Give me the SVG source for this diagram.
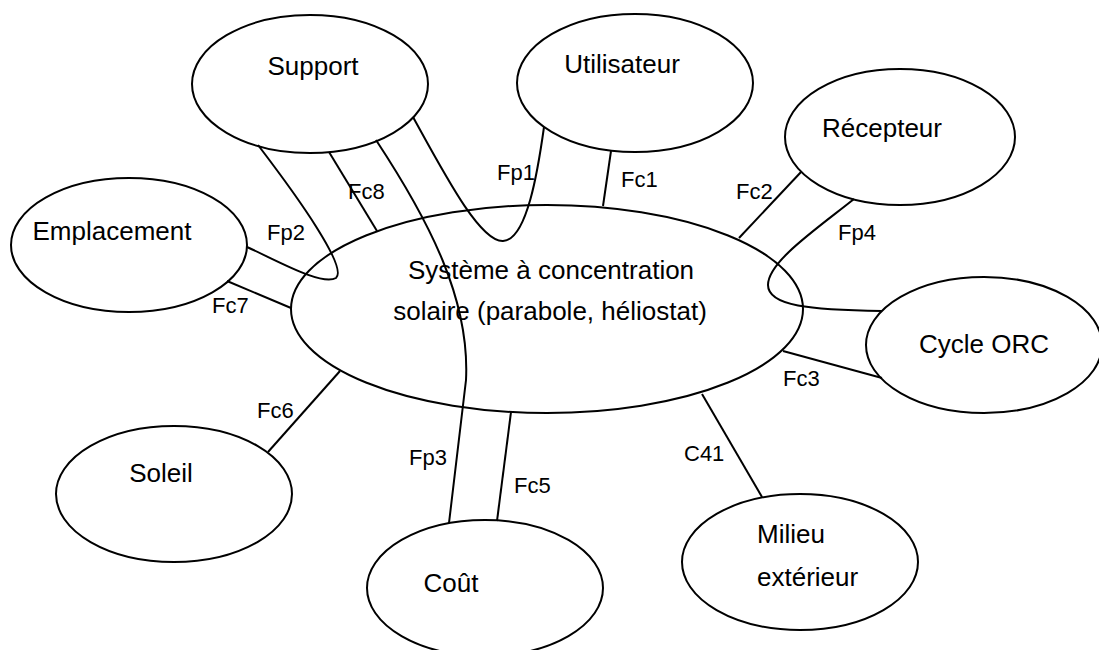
<svg xmlns="http://www.w3.org/2000/svg" width="1099" height="650" viewBox="0 0 1099 650">
<style>
.n{fill:#fff;stroke:#000;stroke-width:2}
.c{fill:none;stroke:#000;stroke-width:2}
text{font-family:"Liberation Sans",Arial,sans-serif;fill:#000}
.t{font-size:26px}
.l{font-size:22px}
</style>
<rect width="1099" height="650" fill="#fff"/>
<g id="n-main"><ellipse class="n" cx="547" cy="309" rx="256" ry="104"/></g>
<g id="n-support"><ellipse class="n" cx="310" cy="84" rx="118" ry="69"/><text class="t" x="313" y="75" text-anchor="middle">Support</text></g>
<g id="n-utilisateur"><ellipse class="n" cx="635" cy="83" rx="118" ry="69"/><text class="t" x="622" y="73" text-anchor="middle">Utilisateur</text></g>
<g id="n-recepteur"><ellipse class="n" cx="900" cy="137" rx="115" ry="68"/><text class="t" x="882" y="137" text-anchor="middle">Récepteur</text></g>
<g id="n-cycle"><ellipse class="n" cx="984" cy="345" rx="118" ry="68"/><text class="t" x="984" y="353" text-anchor="middle">Cycle ORC</text></g>
<g id="n-emplacement"><ellipse class="n" cx="129" cy="245" rx="118" ry="67"/><text class="t" x="112" y="240" text-anchor="middle">Emplacement</text></g>
<g id="n-soleil"><ellipse class="n" cx="174" cy="494" rx="118" ry="68"/><text class="t" x="161" y="482" text-anchor="middle">Soleil</text></g>
<g id="n-cout"><ellipse class="n" cx="485" cy="588" rx="118" ry="68"/><text class="t" x="451" y="592" text-anchor="middle">Coût</text></g>
<g id="n-milieu"><ellipse class="n" cx="800" cy="562" rx="118" ry="68"/><text class="t" x="757" y="543">Milieu</text><text class="t" x="757" y="586">extérieur</text></g>
<g id="connectors">
<line class="c" x1="611" y1="151" x2="603" y2="206"/>
<line class="c" x1="801" y1="172" x2="739" y2="238"/>
<path class="c" d="M854,199 C815,230 768,262 768,285 C768,306 810,310 882,311"/>
<line class="c" x1="783" y1="351" x2="882" y2="378"/>
<line class="c" x1="702" y1="394" x2="762" y2="497"/>
<line class="c" x1="511" y1="412" x2="497" y2="521"/>
<path class="c" d="M376,140 C430,222 470,300 466,380 L449,523"/>
<line class="c" x1="329" y1="152" x2="377" y2="231"/>
<path class="c" d="M413,117 C445,175 480,242 503,241 C527,240 538,170 544,127"/>
<path class="c" d="M258,145 C300,200 348,268 336,278 C322,286 280,262 247,247"/>
<line class="c" x1="227" y1="281" x2="291" y2="308"/>
<line class="c" x1="340" y1="371" x2="268" y2="452"/>
</g>
<g id="main-text">
<text class="t" x="551" y="279" text-anchor="middle">Système à concentration</text>
<text class="t" x="550" y="320" text-anchor="middle">solaire (parabole, héliostat)</text>
</g>
<g id="labels">
<text class="l" x="497" y="180">Fp1</text>
<text class="l" x="621" y="187">Fc1</text>
<text class="l" x="736" y="199">Fc2</text>
<text class="l" x="838" y="240">Fp4</text>
<text class="l" x="783" y="386">Fc3</text>
<text class="l" x="684" y="461">C41</text>
<text class="l" x="514" y="493">Fc5</text>
<text class="l" x="409" y="465">Fp3</text>
<text class="l" x="348" y="199">Fc8</text>
<text class="l" x="267" y="240">Fp2</text>
<text class="l" x="212" y="313">Fc7</text>
<text class="l" x="257" y="418">Fc6</text>
</g>
</svg>
